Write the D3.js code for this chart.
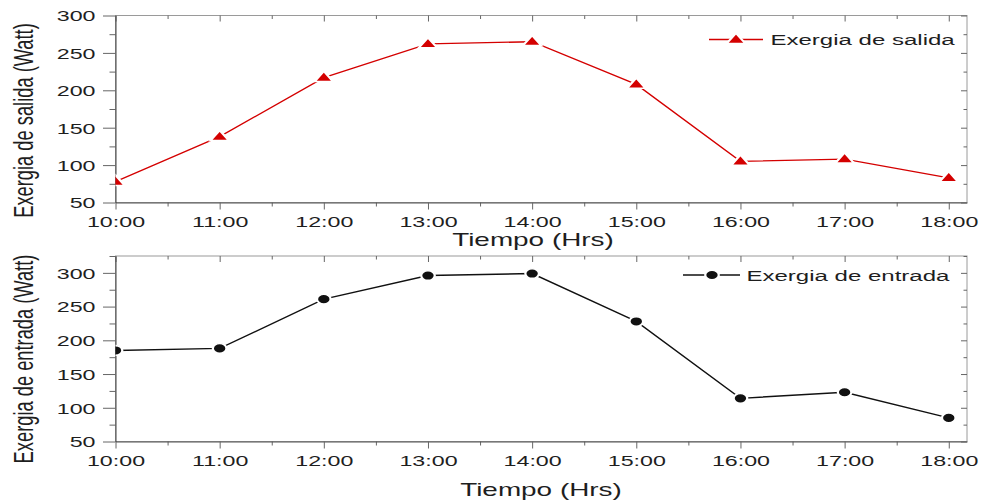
<!DOCTYPE html>
<html>
<head>
<meta charset="utf-8">
<script src="https://cdn.jsdelivr.net/npm/d3@7/dist/d3.min.js"></script>
<style>
  html, body { margin: 0; padding: 0; background: #fff; }
  svg { display: block; font-family: "Liberation Sans", Arial, sans-serif; }
</style>
</head>
<body>
<svg id="chart" width="981" height="502"></svg>
<script>
// Hours of the day (decimal) and their axis labels
const hours = [10, 11, 12, 13, 14, 15, 16, 17, 18];
const hourLabels = ["10:00", "11:00", "12:00", "13:00", "14:00", "15:00", "16:00", "17:00", "18:00"];
const halfHours = [10.5, 11.5, 12.5, 13.5, 14.5, 15.5, 16.5, 17.5];

// Exergy values (Watt)
const exergiaSalida = [78, 138, 217, 262, 265, 208, 105, 108, 83];
const exergiaEntrada = [185, 188, 261, 296, 299, 228, 114, 123, 85];

// Y axis ticks
const yMajorTicks = [50, 100, 150, 200, 250, 300];
const yMinorTopPanel = [75, 125, 175, 225, 275];
const yMinorBottomPanel = [75, 125, 175, 225, 275, 325];

const SX = 1.55;          // horizontal stretch applied to text and markers
const textColor = "#1e1e1e";

const svg = d3.select("#chart");

const x = d3.scaleLinear().domain([10, 18.175]).range([115.5, 967]);

const panels = [
  {
    id: "top",
    values: exergiaSalida,
    y: d3.scaleLinear().domain([50, 300]).range([202.5, 15.5]),
    minor: yMinorTopPanel,
    color: "#d40000",
    symbol: "triangle",
    yLabel: "Exergia de salida (Watt)",
    yLabelPos: [33, 120.5],
    xTitlePos: [533, 246],
    legend: { label: "Exergia de salida", x1: 709, x2: 763, mx: 736, y: 39.5, tx: 770.5, ty: 45 }
  },
  {
    id: "bottom",
    values: exergiaEntrada,
    y: d3.scaleLinear().domain([50, 325]).range([441.5, 256]),
    minor: yMinorBottomPanel,
    color: "#111",
    symbol: "circle",
    yLabel: "Exergia de entrada (Watt)",
    yLabelPos: [33, 359],
    xTitlePos: [541, 496],
    legend: { label: "Exergia de entrada", x1: 683, x2: 740, mx: 712, y: 275, tx: 746.5, ty: 280.5 }
  }
];

function drawMarker(sel, kind, color) {
  if (kind === "triangle") {
    sel.append("path")
      .attr("d", d3.symbol(d3.symbolTriangle, 62)())
      .attr("transform", d => `translate(${d[0]},${d[1] + 0.5}) scale(${SX},1)`)
      .attr("fill", color)
      .attr("stroke", "#fff")
      .attr("stroke-width", 1.6);
  } else {
    sel.append("path")
      .attr("d", d3.symbol(d3.symbolCircle, 74)())
      .attr("transform", d => `translate(${d[0]},${d[1]}) scale(1.4,1)`)
      .attr("fill", color)
      .attr("stroke", "#fff")
      .attr("stroke-width", 1.6);
  }
}

panels.forEach(p => {
  const [x0, x1] = x.range();
  const [yb, yt] = p.y.range();
  const g = svg.append("g").attr("class", p.id);

  // frame (top and right edges lighter)
  g.append("rect")
    .attr("x", x0).attr("y", yt)
    .attr("width", x1 - x0).attr("height", yb - yt)
    .attr("fill", "none").attr("stroke", "#9a9a9a").attr("stroke-width", 1);

  // bottom axis: major + minor ticks, outward
  const gxMinor = g.append("g").attr("transform", `translate(0,${yb})`)
    .call(d3.axisBottom(x).tickValues(halfHours).tickSize(4).tickFormat(""));
  const gx = g.append("g").attr("transform", `translate(0,${yb})`)
    .call(d3.axisBottom(x).tickValues(hours).tickSize(7).tickSizeOuter(0)
      .tickFormat((d, i) => hourLabels[i]));
  gx.select(".domain").attr("stroke", "#555");
  gxMinor.select(".domain").remove();
  gx.selectAll(".tick text")
    .attr("y", 24.5).attr("dy", 0)
    .attr("fill", textColor)
    .style("font-size", "15px")
    .attr("transform", `scale(${SX},1)`);

  // top axis: inward ticks, no labels
  const gxt = g.append("g").attr("transform", `translate(0,${yt})`)
    .call(d3.axisTop(x).tickValues(hours).tickSize(-6).tickFormat(""));
  const gxtm = g.append("g").attr("transform", `translate(0,${yt})`)
    .call(d3.axisTop(x).tickValues(halfHours).tickSize(-3.5).tickFormat(""));
  gxt.select(".domain").remove();
  gxtm.select(".domain").remove();

  // left axis: outward ticks with labels
  const gyMinor = g.append("g").attr("transform", `translate(${x0},0)`)
    .call(d3.axisLeft(p.y).tickValues(p.minor).tickSize(6).tickFormat(""));
  gyMinor.select(".domain").remove();
  const gy = g.append("g").attr("transform", `translate(${x0},0)`)
    .call(d3.axisLeft(p.y).tickValues(yMajorTicks).tickSize(12.5).tickSizeOuter(0));
  gy.select(".domain").attr("stroke", "#444");
  gy.selectAll(".tick text")
    .attr("x", -20 / SX)
    .attr("dy", "0.36em")
    .attr("fill", textColor)
    .style("font-size", "15px")
    .attr("transform", `scale(${SX},1)`);

  // right axis: inward ticks, no labels
  const gyr = g.append("g").attr("transform", `translate(${x1},0)`)
    .call(d3.axisRight(p.y).tickValues(yMajorTicks).tickSize(-6).tickFormat(""));
  const gyrm = g.append("g").attr("transform", `translate(${x1},0)`)
    .call(d3.axisRight(p.y).tickValues(p.minor).tickSize(-3.5).tickFormat(""));
  gyr.select(".domain").remove();
  gyrm.select(".domain").remove();

  g.selectAll(".tick line").attr("stroke", "#666");

  // clip region for the series
  const clipId = `clip-${p.id}`;
  svg.append("clipPath").attr("id", clipId)
    .append("rect").attr("x", x0).attr("y", yt).attr("width", x1 - x0).attr("height", yb - yt);

  const pts = hours.map((h, i) => [x(h), p.y(p.values[i])]);
  const series = g.append("g").attr("clip-path", `url(#${clipId})`);
  series.append("path")
    .datum(pts)
    .attr("d", d3.line())
    .attr("fill", "none")
    .attr("stroke", p.color)
    .attr("stroke-width", 1.4);
  const marks = series.selectAll("g.mk").data(pts).join("g").attr("class", "mk");
  drawMarker(marks, p.symbol, p.color);

  // legend
  const L = p.legend;
  g.append("line")
    .attr("x1", L.x1).attr("x2", L.x2).attr("y1", L.y).attr("y2", L.y)
    .attr("stroke", p.color).attr("stroke-width", 1.4);
  const lm = g.append("g").selectAll("g").data([[L.mx, L.y]]).join("g");
  drawMarker(lm, p.symbol, p.color);
  g.append("text")
    .attr("transform", `translate(${L.tx},${L.ty}) scale(${SX},1)`)
    .attr("fill", textColor)
    .style("font-size", "15.5px")
    .text(L.label);

  // axis titles
  g.append("text")
    .attr("transform", `translate(${p.xTitlePos[0]},${p.xTitlePos[1]}) scale(${SX},1)`)
    .attr("text-anchor", "middle")
    .attr("fill", textColor)
    .style("font-size", "18px")
    .text("Tiempo (Hrs)");

  g.append("text")
    .attr("transform", `translate(${p.yLabelPos[0]},${p.yLabelPos[1]}) rotate(-90) scale(1,${SX})`)
    .attr("text-anchor", "middle")
    .attr("fill", textColor)
    .style("font-size", "18.3px")
    .text(p.yLabel);
});
</script>
</body>
</html>
